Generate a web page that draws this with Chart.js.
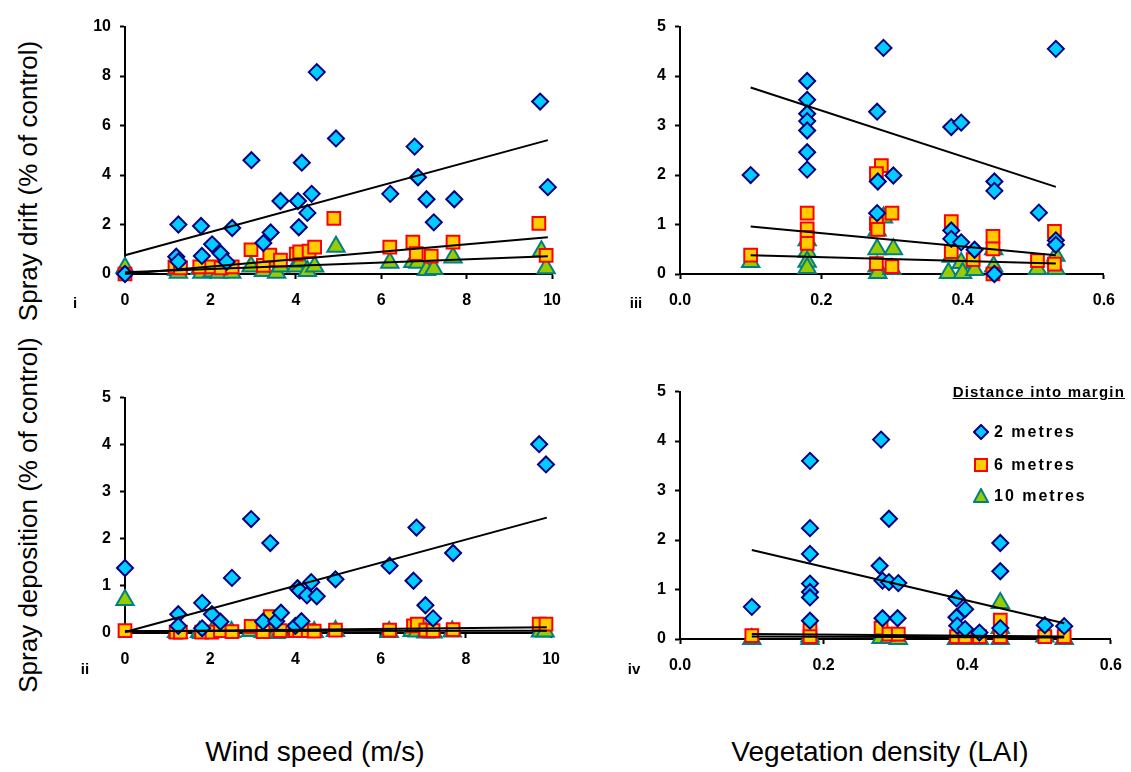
<!DOCTYPE html>
<html>
<head>
<meta charset="utf-8">
<script src="https://cdn.jsdelivr.net/npm/chart.js@4.4.0/dist/chart.umd.min.js"></script>
<style>
  html, body { margin: 0; padding: 0; background: #fff; }
  body { position: relative; width: 1131px; height: 772px; overflow: hidden;
         font-family: "Liberation Sans", Arial, sans-serif; color: #000; }
  canvas { position: absolute; }
  .ytitle { position: absolute; font-size: 26px; white-space: nowrap;
            transform: translate(-50%, -50%) rotate(-90deg); }
  .xtitle { position: absolute; font-size: 28px; white-space: nowrap;
            transform: translate(-50%, -50%); }
  .tag { position: absolute; font-size: 15px; font-weight: bold;
         transform: translate(-50%, -50%); }
  .legend { position: absolute; font-weight: bold; white-space: nowrap; }
  .legend .head { position: absolute; right: 0; top: 0; font-size: 15px;
                  letter-spacing: 1.2px; text-decoration: underline; }
  .legend .row { position: absolute; left: 0; font-size: 16px; letter-spacing: 2px;
                 display: flex; align-items: center; }
  .legend svg { margin-right: 5px; }
</style>
</head>
<body>

<canvas id="c1" width="513" height="306" style="left:60px; top:8px"></canvas>
<canvas id="c3" width="512" height="306" style="left:615px; top:8px"></canvas>
<canvas id="c2" width="512" height="294" style="left:60px; top:379px"></canvas>
<canvas id="c4" width="519" height="306" style="left:615px; top:373px"></canvas>

<div class="ytitle" style="left:28px; top:181px">Spray drift (% of control)</div>
<div class="ytitle" style="left:28px; top:515px">Spray deposition (% of control)</div>
<div class="xtitle" style="left:315px; top:752px">Wind speed (m/s)</div>
<div class="xtitle" style="left:880px; top:752px">Vegetation density (LAI)</div>

<div class="tag" style="left:75px; top:302px">i</div>
<div class="tag" style="left:85px; top:668px">ii</div>
<div class="tag" style="left:636px; top:302px">iii</div>
<div class="tag" style="left:634px; top:668px">iv</div>

<div class="legend" style="left:900px; top:383px; width:225px; height:130px">
  <div class="head">Distance into margin</div>
  <div class="row" style="left:73px; top:40px">
    <svg width="16" height="16"><polygon points="8,1 15,8 8,15 1,8" fill="#00CCFF" stroke="#000080" stroke-width="2"/></svg>2 metres</div>
  <div class="row" style="left:73px; top:73px">
    <svg width="16" height="16"><rect x="2" y="2" width="12" height="12" fill="#FFCC00" stroke="#FF0000" stroke-width="2"/></svg>6 metres</div>
  <div class="row" style="left:73px; top:104px">
    <svg width="16" height="16"><polygon points="8,1 15,14 1,14" fill="#99CC00" stroke="#008080" stroke-width="2"/></svg>10 metres</div>
</div>

<script>
// Axis ticks
const windTicks = [0, 2, 4, 6, 8, 10];
const laiTicks = [0, 0.2, 0.4, 0.6];
const driftWindYTicks = [0, 2, 4, 6, 8, 10];
const fiveTicks = [0, 1, 2, 3, 4, 5];

// Series names (distance into margin)
const seriesNames = ['2 metres', '6 metres', '10 metres'];

// Panel i: spray drift vs wind speed, [x, y]
const driftWind2m = [[0, 0], [1.2, 0.7], [1.25, 0.5], [1.25, 2.0], [1.78, 1.94], [1.8, 0.73], [2.04, 1.2],
  [2.24, 0.83], [2.38, 0.49], [2.51, 1.86], [2.96, 4.6], [3.24, 1.25], [3.41, 1.68], [3.64, 2.95],
  [4.05, 2.95], [4.07, 1.89], [4.14, 4.5], [4.27, 2.47], [4.37, 3.24], [4.49, 8.16], [4.94, 5.48],
  [6.21, 3.24], [6.78, 5.15], [6.86, 3.91], [7.06, 3.02], [7.23, 2.09], [7.71, 3.02], [9.72, 6.97], [9.9, 3.51]];
const driftWind6m = [[0, 0], [1.17, 0.29], [1.3, 0.25], [1.75, 0.29], [2.03, 0.29], [2.25, 0.25], [2.51, 0.29],
  [2.95, 0.98], [3.24, 0.35], [3.39, 0.76], [3.64, 0.56], [4.01, 0.8], [4.09, 0.89], [4.31, 0.93],
  [4.44, 1.09], [4.89, 2.25], [6.2, 1.09], [6.74, 1.29], [6.82, 0.82], [7.17, 0.72], [7.68, 1.29],
  [9.69, 2.05], [9.86, 0.75]];
const driftWind10m = [[0, 0.25], [1.21, 0.16], [1.25, 0.05], [1.75, 0.2], [1.8, 0.05], [2.04, 0.1], [2.2, 0.05],
  [2.5, 0.05], [2.95, 0.3], [3.24, 0.12], [3.4, 0.53], [3.55, 0.05], [3.64, 0.3], [4.0, 0.3], [4.1, 0.5],
  [4.27, 0.12], [4.44, 0.3], [4.94, 1.1], [6.2, 0.45], [6.74, 0.49], [6.86, 0.45], [7.06, 0.16],
  [7.23, 0.2], [7.68, 0.67], [9.75, 0.92], [9.86, 0.23]];

// Panel ii: spray deposition vs wind speed
const depWind2m = [[0, 1.38], [1.25, 0.4], [1.25, 0.15], [1.81, 0.64], [1.81, 0.1], [2.04, 0.4], [2.24, 0.24],
  [2.51, 1.17], [2.96, 2.42], [3.24, 0.24], [3.41, 1.91], [3.55, 0.25], [3.66, 0.43], [4.0, 0.15],
  [4.05, 0.95], [4.1, 0.9], [4.14, 0.25], [4.27, 0.8], [4.37, 1.08], [4.5, 0.78], [4.94, 1.14],
  [6.21, 1.43], [6.84, 2.24], [6.77, 1.11], [7.05, 0.59], [7.23, 0.31], [7.7, 1.7], [9.72, 4.01], [9.88, 3.58]];
const depWind6m = [[0, 0.05], [1.2, 0.02], [1.3, 0.02], [1.8, 0.02], [2.04, 0.02], [2.24, 0.05], [2.51, 0.03],
  [2.96, 0.14], [3.24, 0.03], [3.41, 0.35], [3.64, 0.05], [4.0, 0.05], [4.1, 0.05], [4.3, 0.05],
  [4.44, 0.04], [4.94, 0.06], [6.21, 0.06], [6.77, 0.15], [6.86, 0.19], [7.06, 0.06], [7.23, 0.05],
  [7.7, 0.07], [9.72, 0.19], [9.88, 0.19]];
const depWind10m = [[0, 0.7], [1.21, 0.02], [1.25, 0], [1.75, 0.02], [1.8, 0], [2.04, 0.02], [2.2, 0.02],
  [2.5, 0.02], [2.95, 0.04], [3.24, 0.02], [3.41, 0.2], [3.55, 0], [3.64, 0.02], [4.0, 0.02], [4.1, 0.03],
  [4.27, 0.02], [4.44, 0.02], [4.94, 0.04], [6.2, 0.02], [6.74, 0.04], [6.86, 0.03], [7.06, 0.01],
  [7.23, 0.01], [7.68, 0.03], [9.75, 0.03], [9.86, 0.03]];

// Panel iii: spray drift vs vegetation density
const driftLai2m = [[0.1, 2.0], [0.18, 3.9], [0.18, 3.52], [0.18, 3.24], [0.18, 3.09], [0.18, 2.9], [0.18, 2.46],
  [0.18, 2.11], [0.288, 4.57], [0.279, 3.28], [0.28, 1.87], [0.302, 1.99], [0.279, 1.23], [0.384, 2.97],
  [0.398, 3.06], [0.384, 0.88], [0.384, 0.71], [0.398, 0.64], [0.417, 0.49], [0.445, 1.87], [0.445, 1.68],
  [0.445, 0], [0.508, 1.24], [0.532, 4.55], [0.532, 0.68], [0.532, 0.59]];
const driftLai6m = [[0.1, 0.38], [0.18, 1.23], [0.18, 0.91], [0.18, 0.74], [0.18, 0.62], [0.285, 2.19],
  [0.278, 2.03], [0.3, 1.23], [0.278, 1.02], [0.28, 0.9], [0.278, 0.21], [0.3, 0.15], [0.384, 1.06],
  [0.384, 0.45], [0.415, 0.29], [0.443, 0.76], [0.443, 0.51], [0.443, 0], [0.506, 0.27], [0.53, 0.86], [0.53, 0.2]];
const driftLai10m = [[0.1, 0.24], [0.18, 0.68], [0.18, 0.45], [0.18, 0.25], [0.18, 0.12], [0.288, 1.14],
  [0.279, 0.88], [0.279, 0.5], [0.302, 0.5], [0.279, 0.15], [0.28, 0.02], [0.3, 0.1], [0.384, 0.35],
  [0.38, 0.02], [0.398, 0.22], [0.4, 0.02], [0.417, 0.08], [0.444, 0.5], [0.444, 0.15], [0.506, 0.1],
  [0.532, 0.37], [0.532, 0.1]];

// Panel iv: spray deposition vs vegetation density
const depLai2m = [[0.1, 0.65], [0.181, 3.6], [0.181, 2.24], [0.181, 1.72], [0.181, 1.12], [0.181, 0.95],
  [0.181, 0.84], [0.181, 0.37], [0.28, 4.03], [0.291, 2.43], [0.278, 1.48], [0.282, 1.18], [0.291, 1.15],
  [0.304, 1.13], [0.282, 0.42], [0.303, 0.42], [0.385, 0.82], [0.397, 0.6], [0.385, 0.44], [0.386, 0.27],
  [0.397, 0.2], [0.417, 0.13], [0.446, 1.94], [0.446, 1.37], [0.446, 0.22], [0.508, 0.28], [0.535, 0.26]];
const depLai6m = [[0.1, 0.07], [0.181, 0.18], [0.181, 0.05], [0.28, 0.22], [0.291, 0.1], [0.304, 0.1],
  [0.385, 0.05], [0.397, 0.05], [0.417, 0.05], [0.446, 0.38], [0.446, 0.05], [0.508, 0.05], [0.535, 0.05]];
const depLai10m = [[0.1, 0], [0.181, 0.05], [0.181, 0], [0.28, 0.02], [0.291, 0.02], [0.304, 0], [0.385, 0],
  [0.397, 0], [0.417, 0], [0.446, 0.73], [0.446, 0.22], [0.446, 0], [0.508, 0.05], [0.535, 0]];

// Trend lines: x range and y at each end (2m, 6m, 10m)
const windFitX = [0, 9.9];
const driftWindFit2m = [0.76, 5.41];
const driftWindFit6m = [0.0, 1.49];
const driftWindFit10m = [0.07, 0.72];
const depWindFit2m = [0.02, 2.45];
const depWindFit6m = [0.03, 0.12];
const depWindFit10m = [0.04, 0.05];

const driftLaiFitX = [0.1, 0.532];
const driftLaiFit2m = [3.77, 1.76];
const driftLaiFit6m = [0.96, 0.38];
const driftLaiFit10m = [0.38, 0.21];
const depLaiFitX = [0.1, 0.535];
const depLaiFit2m = [1.8, 0.32];
const depLaiFit6m = [0.1, 0.05];
const depLaiFit10m = [0.05, 0.03];

// Marker styles
const markerStyles = [
  { pointStyle: 'rectRot', pointRadius: 8, backgroundColor: '#00CCFF', borderColor: '#000080' },
  { pointStyle: 'rect', pointRadius: 9, backgroundColor: '#FFCC00', borderColor: '#FF0000' },
  { pointStyle: 'triangle', pointRadius: 10, backgroundColor: '#99CC00', borderColor: '#008080' }
];

const tickFont = { family: '"Liberation Sans", Arial, sans-serif', size: 16, weight: 'bold' };

function toPoints(pairs) {
  return pairs.map(p => ({ x: p[0], y: p[1] }));
}

function axis(min, max, tickValues, fmt, isX) {
  return {
    type: 'linear',
    min: min,
    max: max,
    afterBuildTicks: s => { s.ticks = tickValues.map(v => ({ value: v })); },
    afterFit: s => { if (isX) { s.height = 40; } else { s.width = 65; } },
    ticks: { font: tickFont, color: '#000', padding: isX ? 12 : 9, callback: v => fmt(v) },
    grid: { display: true, drawOnChartArea: false, drawTicks: true, tickLength: 5,
            tickWidth: 2, tickColor: '#000', color: '#000' },
    border: { display: true, color: '#000', width: 2 }
  };
}

function makePanel(id, series, fitX, fits, xTicks, yTicks, xFmt) {
  const datasets = [];
  // trend lines drawn on top
  fits.forEach((f, i) => {
    datasets.push({
      type: 'line',
      label: seriesNames[i] + ' trend',
      data: [{ x: fitX[0], y: f[0] }, { x: fitX[1], y: f[1] }],
      borderColor: '#000',
      borderWidth: 2,
      pointRadius: 0,
      fill: false,
      clip: false,
      order: 0
    });
  });
  series.forEach((s, i) => {
    datasets.push(Object.assign({
      type: 'scatter',
      label: seriesNames[i],
      data: toPoints(s),
      pointBorderWidth: 2,
      clip: false,
      order: i + 1
    }, markerStyles[i]));
  });

  return new Chart(document.getElementById(id), {
    type: 'scatter',
    data: { datasets: datasets },
    options: {
      responsive: false,
      animation: false,
      devicePixelRatio: 1,
      layout: { padding: { left: 0, right: 20, top: 15, bottom: 0 } },
      plugins: { legend: { display: false }, tooltip: { enabled: false } },
      scales: {
        x: axis(xTicks[0], xTicks[xTicks.length - 1], xTicks, xFmt, true),
        y: axis(yTicks[0], yTicks[yTicks.length - 1], yTicks, v => String(v), false)
      }
    }
  });
}

const intFmt = v => String(v);
const oneDec = v => Number(v).toFixed(1);

makePanel('c1', [driftWind2m, driftWind6m, driftWind10m], windFitX,
  [driftWindFit2m, driftWindFit6m, driftWindFit10m], windTicks, driftWindYTicks, intFmt);
makePanel('c2', [depWind2m, depWind6m, depWind10m], windFitX,
  [depWindFit2m, depWindFit6m, depWindFit10m], windTicks, fiveTicks, intFmt);
makePanel('c3', [driftLai2m, driftLai6m, driftLai10m], driftLaiFitX,
  [driftLaiFit2m, driftLaiFit6m, driftLaiFit10m], laiTicks, fiveTicks, oneDec);
makePanel('c4', [depLai2m, depLai6m, depLai10m], depLaiFitX,
  [depLaiFit2m, depLaiFit6m, depLaiFit10m], laiTicks, fiveTicks, oneDec);
</script>
</body>
</html>
